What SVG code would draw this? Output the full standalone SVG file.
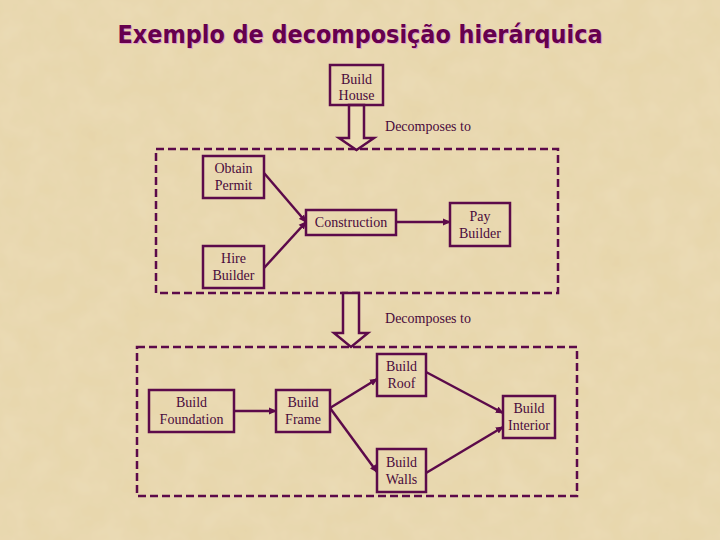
<svg xmlns="http://www.w3.org/2000/svg" width="720" height="540" viewBox="0 0 720 540">
<defs>
<style>
.box{fill:none;stroke:#5c0a4a;stroke-width:2.5}
.dash{fill:none;stroke:#5c0a4a;stroke-width:2.5;stroke-dasharray:8 4}
.lbl{font-family:"Liberation Serif","Times New Roman",serif;font-size:14px;fill:#4a0a3c;text-anchor:middle}
.edge{fill:none;stroke:#5c0a4a;stroke-width:2.5}
.hollow{fill:#ecdcb4;stroke:#5c0a4a;stroke-width:2.5;stroke-linejoin:miter}
.title{font-family:"DejaVu Sans","Noto Sans",sans-serif;font-size:25px;font-weight:bold;text-anchor:middle}
</style>
<marker id="ah" markerWidth="8" markerHeight="8" refX="7" refY="4" orient="auto" markerUnits="userSpaceOnUse">
<path d="M0,0.5 L8,4 L0,7.5 Z" fill="#5c0a4a"/>
</marker>
<filter id="tex" x="0" y="0" width="100%" height="100%">
<feTurbulence type="fractalNoise" baseFrequency="0.04" numOctaves="3" seed="3" result="n"/>
<feColorMatrix in="n" type="matrix" values="0 0 0 0 0.93  0 0 0 0 0.86  0 0 0 0 0.69  0 0 0 0.35 0" result="c"/>
<feComposite in="c" in2="SourceGraphic" operator="over"/>
</filter>
</defs>
<rect width="720" height="540" fill="#ecdcb4"/>
<rect width="720" height="540" fill="#e4d1a3" filter="url(#tex)" opacity="0.6"/>

<g id="title">
<text x="361" y="44" class="title" fill="#e0a0c8" textLength="485" lengthAdjust="spacingAndGlyphs">Exemplo de decomposição hierárquica</text>
<text x="360" y="43" class="title" fill="#66004d" textLength="485" lengthAdjust="spacingAndGlyphs">Exemplo de decomposição hierárquica</text>
</g>

<g id="groups">
<rect id="group1" class="dash" x="156" y="149" width="402" height="144"/>
<rect id="group2" class="dash" x="137" y="347" width="440" height="149"/>
</g>

<g id="connectors">
<path class="hollow" d="M349,105 L364,105 L364,138 L374,138 L356.5,150 L339,138 L349,138 Z"/>
<path class="hollow" d="M343,293 L359,293 L359,333 L368,333 L351,347 L334,333 L343,333 Z"/>
<line class="edge" x1="264" y1="173" x2="306" y2="222" marker-end="url(#ah)"/>
<line class="edge" x1="264" y1="268" x2="306" y2="222" marker-end="url(#ah)"/>
<line class="edge" x1="396" y1="222" x2="450" y2="222" marker-end="url(#ah)"/>
<line class="edge" x1="234" y1="411" x2="276" y2="411" marker-end="url(#ah)"/>
<line class="edge" x1="330" y1="408" x2="377" y2="379" marker-end="url(#ah)"/>
<line class="edge" x1="330" y1="408" x2="377" y2="472" marker-end="url(#ah)"/>
<line class="edge" x1="426" y1="372" x2="503" y2="413" marker-end="url(#ah)"/>
<line class="edge" x1="426" y1="473" x2="503" y2="427" marker-end="url(#ah)"/>
</g>

<g id="labels">
<text class="lbl" x="428" y="131">Decomposes to</text>
<text class="lbl" x="428" y="323">Decomposes to</text>
</g>

<g id="build-house">
<rect class="box" x="330" y="65" width="53" height="40"/>
<text class="lbl" x="356.5" y="84">Build</text>
<text class="lbl" x="356.5" y="100">House</text>
</g>
<g id="obtain-permit">
<rect class="box" x="203" y="156" width="61" height="42"/>
<text class="lbl" x="233.5" y="173">Obtain</text>
<text class="lbl" x="233.5" y="190">Permit</text>
</g>
<g id="hire-builder">
<rect class="box" x="203" y="246" width="61" height="42"/>
<text class="lbl" x="233.5" y="263">Hire</text>
<text class="lbl" x="233.5" y="280">Builder</text>
</g>
<g id="construction">
<rect class="box" x="306" y="210" width="90" height="25"/>
<text class="lbl" x="351" y="227">Construction</text>
</g>
<g id="pay-builder">
<rect class="box" x="450" y="203" width="60" height="43"/>
<text class="lbl" x="480" y="221">Pay</text>
<text class="lbl" x="480" y="238">Builder</text>
</g>
<g id="build-foundation">
<rect class="box" x="149" y="390" width="85" height="42"/>
<text class="lbl" x="191.5" y="407">Build</text>
<text class="lbl" x="191.5" y="424">Foundation</text>
</g>
<g id="build-frame">
<rect class="box" x="276" y="390" width="54" height="42"/>
<text class="lbl" x="303" y="407">Build</text>
<text class="lbl" x="303" y="424">Frame</text>
</g>
<g id="build-roof">
<rect class="box" x="377" y="354" width="49" height="42"/>
<text class="lbl" x="401.5" y="371">Build</text>
<text class="lbl" x="401.5" y="388">Roof</text>
</g>
<g id="build-walls">
<rect class="box" x="377" y="449" width="49" height="43"/>
<text class="lbl" x="401.5" y="467">Build</text>
<text class="lbl" x="401.5" y="484">Walls</text>
</g>
<g id="build-interior">
<rect class="box" x="503" y="396" width="52" height="42"/>
<text class="lbl" x="529" y="413">Build</text>
<text class="lbl" x="529" y="430">Interior</text>
</g>
</svg>
